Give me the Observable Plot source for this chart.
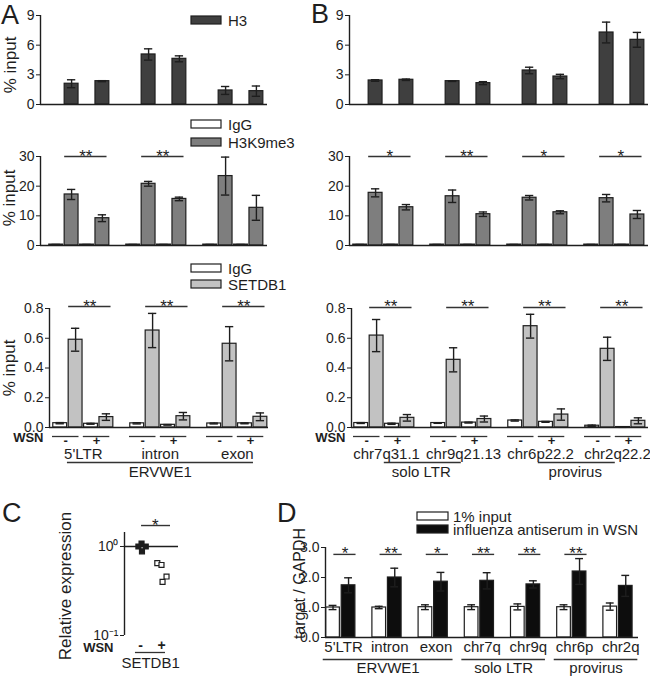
<!DOCTYPE html>
<html><head><meta charset="utf-8">
<script src="https://cdn.jsdelivr.net/npm/d3@7"></script>
<script src="https://cdn.jsdelivr.net/npm/@observablehq/plot@0.6"></script>
<style>
body{margin:0;background:#fff;}
#chart{position:relative;width:650px;height:676px;overflow:hidden;background:#fff}
#chart svg{position:absolute;left:0;top:0;background:transparent !important}
</style></head><body><div id="chart"></div>
<script>
// ---------------- data ----------------
const wsn = ["-", "+"];
const groupsA = ["5'LTR", "intron", "exon"];
const classA = "ERVWE1";
const groupsB = ["chr7q31.1", "chr9q21.13", "chr6p22.2", "chr2q22.2"];
const classOfB = ["solo LTR", "solo LTR", "provirus", "provirus"];
// values ordered: group0 WSN-, group0 WSN+, group1 WSN-, ...
const aH3 = [2.1, 2.36, 5.06, 4.62, 1.42, 1.35];
const aH3Err = [0.4, 0.05, 0.57, 0.3, 0.4, 0.52];
const aK9IgG = [0.3, 0.3, 0.3, 0.3, 0.3, 0.3];
const aK9IgGErr = [0.05, 0.05, 0.05, 0.05, 0.05, 0.05];
const aK9 = [17.2, 9.2, 20.8, 15.7, 23.4, 12.7];
const aK9Err = [1.7, 1.15, 0.8, 0.6, 6.4, 4.2];
const aK9Sig = ["**", "**", ""];
const aSetIgG = [0.029, 0.025, 0.028, 0.018, 0.027, 0.028];
const aSetIgGErr = [0.004, 0.003, 0.004, 0.002, 0.003, 0.003];
const aSet = [0.59, 0.07, 0.652, 0.076, 0.563, 0.072];
const aSetErr = [0.077, 0.022, 0.115, 0.025, 0.115, 0.026];
const aSetSig = ["**", "**", "**"];

const bH3 = [2.43, 2.5, 2.36, 2.16, 3.44, 2.83, 7.28, 6.54];
const bH3Err = [0.08, 0.07, 0.03, 0.15, 0.33, 0.22, 1.05, 0.75];
const bK9IgG = [0.3, 0.3, 0.3, 0.3, 0.3, 0.3, 0.3, 0.3];
const bK9IgGErr = [0.05, 0.05, 0.05, 0.05, 0.05, 0.05, 0.05, 0.05];
const bK9 = [17.75, 12.9, 16.6, 10.55, 16.1, 11.2, 15.95, 10.45];
const bK9Err = [1.35, 0.9, 2.1, 0.75, 0.75, 0.5, 1.25, 1.35];
const bK9Sig = ["*", "**", "*", "*"];
const bSetIgG = [0.03, 0.025, 0.03, 0.033, 0.047, 0.038, 0.012, 0.003];
const bSetIgGErr = [0.003, 0.004, 0.002, 0.003, 0.004, 0.003, 0.004, 0.002];
const bSet = [0.618, 0.065, 0.455, 0.057, 0.681, 0.087, 0.529, 0.045];
const bSetErr = [0.108, 0.022, 0.081, 0.02, 0.08, 0.038, 0.078, 0.02];
const bSetSig = ["**", "**", "**", "**"];

const cGene = "SETDB1";
const cMock = [1.08, 1.0, 1.0, 0.88];
const cWSN = [0.65, 0.62, 0.46, 0.40];
const cSig = "*";

const dTargets = ["5'LTR", "intron", "exon", "chr7q", "chr9q", "chr6p", "chr2q"];
const dClassOf = ["ERVWE1", "ERVWE1", "ERVWE1", "solo LTR", "solo LTR", "provirus", "provirus"];
const dInput = [1.0, 1.0, 1.01, 1.01, 1.02, 1.01, 1.03];
const dInputErr = [0.07, 0.04, 0.08, 0.08, 0.1, 0.08, 0.12];
const dAnti = [1.74, 2.0, 1.86, 1.89, 1.77, 2.2, 1.72];
const dAntiErr = [0.25, 0.31, 0.31, 0.27, 0.12, 0.43, 0.35];
const dSig = ["*", "**", "*", "**", "**", "**", ""];

// ---------------- drawing ----------------
const W = 650, H = 676;
const INK = "#1e1e1e";
const FONT = "'Liberation Sans', Arial, Helvetica, sans-serif";
const C_H3 = "#3f3f3f", C_K9 = "#7e7e7e", C_SET = "#c2c2c2", C_BLACK = "#0d0d0d";
const SW = 15.4;
const root = document.getElementById("chart");

function base(x0, x1, y0, y1) {
  return {width: W, height: H, marginLeft: x0, marginRight: W - x1, marginTop: y0, marginBottom: H - y1,
    style: {background: "none", fontFamily: FONT, fontSize: "14px", color: INK, overflow: "visible"},
    color: {type: "identity"}};
}
function errMarks(rows, half) {
  const caps = rows.flatMap(d => [{x: d.x, y: Math.max(0, d.v - d.e)}, {x: d.x, y: d.v + d.e}]);
  return [
    Plot.ruleX(rows, {x: "x", y1: d => Math.max(0, d.v - d.e), y2: d => d.v + d.e, stroke: INK, strokeWidth: 1.4}),
    Plot.ruleY(caps, {y: "y", x1: d => d.x - half, x2: d => d.x + half, stroke: INK, strokeWidth: 1.4})
  ];
}
function yLabel(text, dx, dy, size) {
  return Plot.text([text], {frameAnchor: "left", textAnchor: "middle", lineAnchor: "middle", rotate: -90, dx, dy, fontSize: size});
}

function barPanel(c) {
  const d0 = (c.px0 - c.slot0) / SW, d1 = (c.px1 - c.slot0) / SW;
  const rows = [];
  c.groups.forEach((g, gi) => wsn.forEach((w, k) => c.series.forEach(s => {
    const i = gi * 2 + k;
    rows.push({x: gi * 5 + 2 * k + s.slot + 0.5, v: s.vals[i], e: s.errs[i], fill: s.fill});
  })));
  const marks = [
    Plot.rect(rows, {x1: d => d.x - 0.45, x2: d => d.x + 0.45, y1: () => 0, y2: "v", fill: "fill", stroke: INK, strokeWidth: 1.2}),
    ...errMarks(rows, 0.27),
    Plot.ruleY([0], {stroke: INK, strokeWidth: 1.4}),
    Plot.ruleX([d0], {y1: () => 0, y2: () => c.ymax, stroke: INK, strokeWidth: 1.4})
  ];
  if (c.sig) {
    const sig = c.sig.map((s, gi) => ({s, gi})).filter(d => d.s);
    marks.push(
      Plot.ruleY(sig, {y: () => c.sigY, x1: d => d.gi * 5 + 1.05, x2: d => d.gi * 5 + 3.8, stroke: "#333", strokeWidth: 1.4}),
      Plot.text(sig, {x: d => d.gi * 5 + 2.42, y: () => c.sigY, text: "s", lineAnchor: "bottom", dy: 5, fontSize: 17})
    );
  }
  if (c.ylabel) marks.push(yLabel(c.ylabel, c.ldx, c.ldy, 17));
  if (c.under) marks.push(...c.under(d0));
  const svg = Plot.plot({...base(c.px0, c.px1, c.top, c.bot),
    x: {domain: [d0, d1], axis: null},
    y: {domain: [0, c.ymax], ticks: c.ticks, tickFormat: c.fmt, tickSize: 4, tickPadding: 2, label: null},
    marks});
  root.appendChild(svg);
}

function wsnRow(groups, d0, labelShift) {
  const pairs = groups.flatMap((g, gi) => wsn.map((w, k) => ({x1: gi * 5 + 2 * k, x2: gi * 5 + 2 * k + 1.72, s: w})));
  return [
    Plot.text(["WSN"], {x: () => d0, y: () => 0, dx: -6, dy: 10.5, textAnchor: "end", fontWeight: "bold", fontSize: 13}),
    Plot.ruleY(pairs, {y: () => 0, x1: "x1", x2: "x2", dy: 9, stroke: "#333", strokeWidth: 1.3}),
    Plot.text(pairs, {x: d => (d.x1 + d.x2) / 2, y: () => 0, text: "s", dy: 13.5, fontWeight: "bold", fontSize: 13}),
    Plot.text(groups, {x: (d, i) => i * 5 + labelShift, y: () => 0, dy: 26.5, fontSize: 15})
  ];
}

// Panel A
barPanel({px0: 40, px1: 267, slot0: 48, top: 15, bot: 104, ymax: 9, ticks: [0, 3, 6, 9], groups: groupsA,
  series: [{vals: aH3, errs: aH3Err, fill: C_H3, slot: 1}], ylabel: "% input", ldx: -30, ldy: 5});
barPanel({px0: 40, px1: 267, slot0: 48, top: 156, bot: 245, ymax: 30, ticks: [0, 10, 20, 30], groups: groupsA,
  series: [{vals: aK9IgG, errs: aK9IgGErr, fill: "#ffffff", slot: 0}, {vals: aK9, errs: aK9Err, fill: C_K9, slot: 1}],
  sig: aK9Sig, sigY: 30, ylabel: "% input", ldx: -31, ldy: -3});
barPanel({px0: 49, px1: 268, slot0: 52, top: 308, bot: 427, ymax: 0.8, ticks: [0, 0.2, 0.4, 0.6, 0.8], fmt: d3.format(".1f"), groups: groupsA,
  series: [{vals: aSetIgG, errs: aSetIgGErr, fill: "#ffffff", slot: 0}, {vals: aSet, errs: aSetErr, fill: C_SET, slot: 1}],
  sig: aSetSig, sigY: 0.813, ylabel: "% input", ldx: -40, ldy: 0,
  under: d0 => [...wsnRow(groupsA, d0, 2.0),
    Plot.ruleY([classA], {y: () => 0, x1: () => 0.97, x2: () => 13.05, dy: 35, stroke: "#333", strokeWidth: 1.3}),
    Plot.text([classA], {x: () => 7, y: () => 0, dy: 45, fontSize: 15})]});

// Panel B
const bClasses = Array.from(new Set(classOfB)).map(name => {
  const idx = classOfB.map((c, i) => c === name ? i : -1).filter(i => i >= 0);
  return {name, x1: idx[0] * 5 + 2, x2: idx[idx.length - 1] * 5 + 2};
});
barPanel({px0: 349, px1: 648, slot0: 352, top: 15, bot: 104, ymax: 9, ticks: [0, 3, 6, 9], groups: groupsB,
  series: [{vals: bH3, errs: bH3Err, fill: C_H3, slot: 1}]});
barPanel({px0: 349, px1: 648, slot0: 352, top: 156, bot: 245, ymax: 30, ticks: [0, 10, 20, 30], groups: groupsB,
  series: [{vals: bK9IgG, errs: bK9IgGErr, fill: "#ffffff", slot: 0}, {vals: bK9, errs: bK9Err, fill: C_K9, slot: 1}],
  sig: bK9Sig, sigY: 30});
barPanel({px0: 351, px1: 648, slot0: 353, top: 308, bot: 427, ymax: 0.8, ticks: [0, 0.2, 0.4, 0.6, 0.8], fmt: d3.format(".1f"), groups: groupsB,
  series: [{vals: bSetIgG, errs: bSetIgGErr, fill: "#ffffff", slot: 0}, {vals: bSet, errs: bSetErr, fill: C_SET, slot: 1}],
  sig: bSetSig, sigY: 0.807,
  under: d0 => [...wsnRow(groupsB, d0, 2.15),
    Plot.ruleY(bClasses, {y: () => 0, x1: "x1", x2: "x2", dy: 35, stroke: "#333", strokeWidth: 1.3}),
    Plot.text(bClasses, {x: d => (d.x1 + d.x2) / 2 - 0.1, y: () => 0, text: "name", dy: 45, fontSize: 15})]});

// Panel C
{
  const cx0 = -0.762, cx1 = 1.81, ymax = 1.436;
  const jMock = [0.05, -0.1, 0.25, 0.07], jWSN = [-0.2, 0.0, 0.24, 0.05];
  const pts = [
    ...cMock.map((v, i) => ({x: 0 + jMock[i], v, f: INK})),
    ...cWSN.map((v, i) => ({x: 1 + jWSN[i], v, f: "#ffffff"}))
  ];
  const svg = Plot.plot({...base(124, 178, 532, 635),
    x: {domain: [cx0, cx1], axis: null},
    y: {type: "log", domain: [0.1, ymax], ticks: [0.1, 1], tickFormat: d => d >= 1 ? "10\u2070" : "10\u207B\u00B9", tickSize: 4, tickPadding: 2, label: null},
    marks: [
      Plot.ruleX([cx0], {y1: () => 0.1, y2: () => ymax, stroke: INK, strokeWidth: 1.4}),
      Plot.ruleY([1], {stroke: INK, strokeWidth: 1.4}),
      Plot.dot(pts, {x: "x", y: "v", symbol: "square", r: 2.8, fill: "f", stroke: INK, strokeWidth: 1.2}),
      Plot.ruleY([cSig], {y: () => 1.72, x1: () => 0.05, x2: () => 1.43, stroke: "#333", strokeWidth: 1.4}),
      Plot.text([cSig], {x: () => 0.71, y: () => 1.72, lineAnchor: "bottom", dy: 5, fontSize: 17}),
      Plot.text(["WSN"], {x: () => cx0, y: () => 0.1, dx: -11, dy: 12, textAnchor: "end", fontWeight: "bold", fontSize: 13}),
      Plot.text(wsn, {x: (d, i) => i, y: () => 0.1, dy: 10.5, fontWeight: "bold", fontSize: 14}),
      Plot.ruleY([cGene], {y: () => 0.1, x1: () => -0.24, x2: () => 1.19, dy: 17, stroke: "#333", strokeWidth: 1.3}),
      Plot.text([cGene], {x: () => 0.48, y: () => 0.1, dy: 27.5, fontSize: 15}),
      yLabel("Relative expression", -59, 2, 17)
    ]});
  root.appendChild(svg);
}

// Panel D
{
  const dx0 = -0.331, dx1 = 6.444;
  const rows = [
    ...dTargets.map((t, i) => ({x: i - 0.168, v: dInput[i], e: dInputErr[i], fill: "#ffffff"})),
    ...dTargets.map((t, i) => ({x: i + 0.168, v: dAnti[i], e: dAntiErr[i], fill: C_BLACK}))
  ];
  const sig = dSig.map((s, i) => ({s, i})).filter(d => d.s);
  const classes = Array.from(new Set(dClassOf)).map(name => {
    const idx = dClassOf.map((c, i) => c === name ? i : -1).filter(i => i >= 0);
    return {name, x1: idx[0] - 0.38, x2: idx[idx.length - 1] + 0.43};
  });
  const svg = Plot.plot({...base(325, 638, 547, 637),
    x: {domain: [dx0, dx1], axis: null},
    y: {domain: [0, 3], ticks: [0, 1, 2, 3], tickSize: 4, tickPadding: 2, label: null},
    marks: [
      Plot.rect(rows, {x1: d => d.x - 0.148, x2: d => d.x + 0.148, y1: () => 0, y2: "v", fill: "fill", stroke: INK, strokeWidth: 1.2}),
      ...errMarks(rows, 0.085),
      Plot.ruleY([0], {stroke: INK, strokeWidth: 1.4}),
      Plot.ruleX([dx0], {y1: () => 0, y2: () => 3, stroke: INK, strokeWidth: 1.4}),
      Plot.ruleY(sig, {y: () => 2.77, x1: d => d.i - 0.15, x2: d => d.i + 0.33, stroke: "#333", strokeWidth: 1.4}),
      Plot.text(sig, {x: d => d.i + 0.09, y: () => 2.77, text: "s", lineAnchor: "bottom", dy: 5, fontSize: 17}),
      Plot.text(dTargets, {x: (d, i) => i + 0.06, y: () => 0, dy: 10, fontSize: 15}),
      Plot.ruleY(classes, {y: () => 0, x1: "x1", x2: "x2", dy: 22, stroke: "#333", strokeWidth: 1.3}),
      Plot.text(classes, {x: d => (d.x1 + d.x2) / 2, y: () => 0, text: "name", dy: 31, fontSize: 15}),
      yLabel("target / GAPDH", -26, -9, 16)
    ]});
  root.appendChild(svg);
}

// Panel letters and legends (layout overlay)
{
  const ov = d3.create("svg").attr("width", W).attr("height", H)
    .style("font-family", FONT).style("fill", INK);
  [["A", 1, 24], ["B", 311, 23], ["C", 2, 522], ["D", 277, 522]].forEach(([t, x, y]) =>
    ov.append("text").attr("x", x).attr("y", y).attr("font-size", 27).text(t));
  const legends = [
    {x: 191, y: 16, w: 30, fill: C_H3, t: "H3", gap: 7},
    {x: 191, y: 120, w: 30, fill: "#ffffff", t: "IgG", gap: 7},
    {x: 191, y: 138, w: 30, fill: C_K9, t: "H3K9me3", gap: 7},
    {x: 191, y: 264, w: 30, fill: "#ffffff", t: "IgG", gap: 7},
    {x: 191, y: 280, w: 30, fill: C_SET, t: "SETDB1", gap: 7},
    {x: 417, y: 512, w: 31, fill: "#ffffff", t: "1% input", gap: 5},
    {x: 417, y: 525, w: 31, fill: C_BLACK, t: "influenza antiserum in WSN", gap: 5}
  ];
  legends.forEach(l => {
    ov.append("rect").attr("x", l.x).attr("y", l.y).attr("width", l.w).attr("height", 8)
      .attr("fill", l.fill).attr("stroke", INK).attr("stroke-width", 1.2);
    ov.append("text").attr("x", l.x + l.w + l.gap).attr("y", l.y + 9.5).attr("font-size", 15).text(l.t);
  });
  root.appendChild(ov.node());
}
</script></body></html>
